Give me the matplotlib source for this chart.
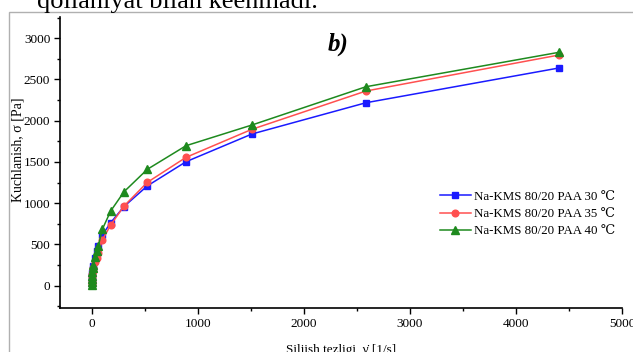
import matplotlib
matplotlib.use("Agg")
import matplotlib.pyplot as plt
from matplotlib.patches import Rectangle
from matplotlib.ticker import MultipleLocator

# Data
shear_rate = [0.2, 0.5, 1, 2, 4, 8, 13, 28, 45, 60, 97, 176, 302, 522, 887, 1509, 2585, 4405]
stress_30 = [15, 45, 80, 115, 160, 200, 240, 330, 420, 480, 614, 764, 960, 1210, 1503, 1839, 2218, 2639]
stress_35 = [5, 30, 60, 100, 140, 180, 220, 290, 332, 400, 554, 735, 966, 1253, 1556, 1896, 2360, 2796]
stress_40 = [10, 40, 80, 120, 170, 210, 250, 352, 420, 485, 683, 905, 1139, 1411, 1697, 1948, 2412, 2829]
labels = ["Na-KMS 80/20 PAA 30 ℃", "Na-KMS 80/20 PAA 35 ℃", "Na-KMS 80/20 PAA 40 ℃"]
x_ticks = [0, 1000, 2000, 3000, 4000, 5000]
y_ticks = [0, 500, 1000, 1500, 2000, 2500, 3000]

serif = ["Liberation Serif", "DejaVu Serif"]
plt.rcParams["font.family"] = serif

W, H = 633, 352
fig = plt.figure(figsize=(W / 100, H / 100), dpi=100)

# document frame
fig.patches.append(Rectangle((9 / W, -0.05), (W + 5) / W, 1 - 12 / H + 0.05,
                             transform=fig.transFigure, fill=False,
                             edgecolor="#b0b0b0", linewidth=1.0))
# cropped document text above the figure
fig.text(37 / W, 1 - 8 / H, "qollaniyat bilan keenmadi.", fontsize=19,
         ha="left", va="baseline", color="black")

ax = fig.add_axes([60 / W, 1 - 308 / H, 562 / W, 291 / H])
ax.set_xlim(-302, 5000)
ax.set_ylim(-270, 3257)

ax.plot(shear_rate, stress_30, color="#1a1aff", marker="s", markersize=4.8,
        linewidth=1.1, label=labels[0])
ax.plot(shear_rate, stress_35, color="#ff5050", marker="o", markersize=4.8,
        linewidth=1.1, label=labels[1])
ax.plot(shear_rate, stress_40, color="#1e8a1e", marker="^", markersize=5.8,
        linewidth=1.1, label=labels[2])

ax.set_xticks(x_ticks)
ax.set_yticks(y_ticks)
ax.xaxis.set_minor_locator(MultipleLocator(500))
ax.yaxis.set_minor_locator(MultipleLocator(250))
ax.tick_params(which="major", direction="out", length=4, width=1, labelsize=9.5, pad=3)
ax.tick_params(which="minor", direction="out", length=2.5, width=1)
for s in ["top", "right"]:
    ax.spines[s].set_visible(False)
for s in ["left", "bottom"]:
    ax.spines[s].set_linewidth(1.2)

ax.set_ylabel("Kuchlanish, σ [Pa]", fontsize=10)
ax.yaxis.set_label_coords(-0.063, 0.545)
ax.set_xlabel("Siljish tezligi, γ̇ [1/s]", fontsize=9.5, labelpad=10)

ax.text(0.495, 0.905, "b)", transform=ax.transAxes, fontsize=18,
        fontweight="bold", fontstyle="italic", ha="center", va="center")

ax.legend(loc="center left", bbox_to_anchor=(0.676, 0.323), frameon=False,
          fontsize=9.3, handlelength=2.4, handletextpad=0.25, labelspacing=0.4,
          borderpad=0, borderaxespad=0)

fig.savefig("out.png", dpi=100)
